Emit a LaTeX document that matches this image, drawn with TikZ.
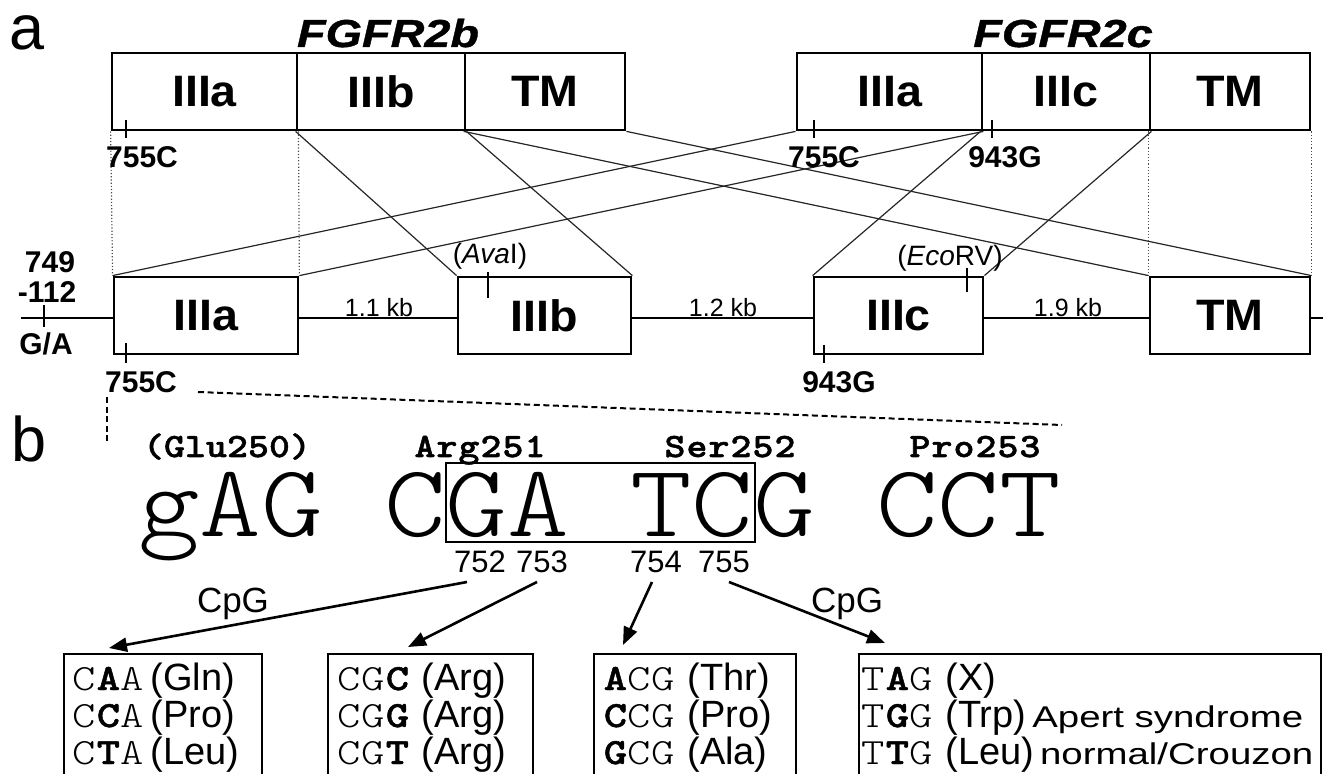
\documentclass[tikz,border=0pt]{standalone}
\usepackage{fontspec}
\setmainfont{Liberation Sans}
\newfontfamily\nsans{Liberation Sans}[FakeStretch=1.06]
\newfontfamily\wsans{Liberation Sans}[FakeStretch=1.2, FakeBold=1]
\newfontfamily\asans{Liberation Sans}[FakeStretch=1.28]
\newfontfamily\mbig{lmmonolt10-regular.otf}[FakeStretch=1.14]
\newfontfamily\mcod{lmmonolt10-regular.otf}[FakeStretch=1.2]
\newfontfamily\mcodb{lmmonolt10-bold.otf}[FakeStretch=1.2, FakeBold=1.2]
\newfontfamily\mlab{lmmonolt10-bold.otf}[FakeStretch=1.17, FakeBold=1.5]
\usetikzlibrary{arrows.meta}
\ExplSyntaxOn
\NewDocumentCommand\spreadstr{mm}{\str_map_inline:nn{#2}{\makebox[#1][c]{##1}}}
\ExplSyntaxOff
\newcommand\cdn[3]{{\fontsize{18.5}{20}\selectfont\makebox[12pt]{#1}\makebox[12pt]{#2}\makebox[12pt]{#3}}}
\newcommand\nb[1]{\mcod #1}
\newcommand\bb[1]{\mcodb #1}
\begin{document}
\begin{tikzpicture}[x=0.5pt,y=-0.5pt,
  gbox/.style={draw, line width=1.4pt, fill=white, inner sep=0, minimum height=38.5pt,
    font=\nsans\bfseries\fontsize{22}{24}\selectfont},
  lbl/.style={anchor=base, inner sep=0, font=\bfseries\fontsize{15}{17}\selectfont},
  lbltwo/.style={anchor=base, inner sep=0, font=\bfseries\fontsize{15}{17}\selectfont},
  kb/.style={anchor=base, inner sep=0, font=\fontsize{12.5}{14}\selectfont},
  enz/.style={anchor=base, inner sep=0, font=\fontsize{14}{16}\selectfont},
  cross/.style={line width=0.6pt, black!85},
  vdot/.style={line width=0.6pt, black!70, densely dotted},
  tick/.style={line width=1.4pt},
  dsh/.style={line width=1pt, dash pattern=on 3pt off 1.8pt},
  ml/.style={anchor=base, inner sep=0, font=\mlab\fontsize{17}{19}\selectfont},
  dg/.style={anchor=base, inner sep=0, font=\fontsize{15.5}{17}\selectfont},
  cpg/.style={anchor=base, inner sep=0, font=\fontsize{17.5}{19}\selectfont},
  arr/.style={line width=1.3pt, -{Triangle[length=9pt,width=7pt]}},
  obox/.style={draw, line width=1.2pt, anchor=north west, minimum height=66pt, inner sep=0},
  row/.style={anchor=base west, inner sep=0, font=\fontsize{19}{21}\selectfont},
  big/.style={anchor=base, inner sep=0, font=\fontsize{31.5}{33}\selectfont},
  ttl/.style={anchor=base, inner sep=0, font=\wsans\bfseries\itshape\fontsize{19.5}{21}\selectfont}
]
\fill[white] (0,0) rectangle (1323,774);
\useasboundingbox (0,0) rectangle (1323,774);

% panel letters
\node[big] (la) at (27,50) {a};
\node[big] (lb) at (29,462) {b};

% titles
\node[ttl] (t2b) at (388,47) {FGFR2b};
\node[ttl] (t2c) at (1063,47) {FGFR2c};

% top row
\node[gbox, minimum width=92.5pt] (b3a) at (204.5,91.5) {IIIa};
\node[gbox, minimum width=84pt] (b3b) at (381,91.5) {IIIb};
\node[gbox, minimum width=80pt] (bTM) at (545,91.5) {TM};
\node[gbox, minimum width=92.5pt] (c3a) at (889.5,91.5) {IIIa};
\node[gbox, minimum width=84pt] (c3c) at (1066,91.5) {IIIc};
\node[gbox, minimum width=80pt] (cTM) at (1230,91.5) {TM};

% genomic line
\coordinate (L0) at (21,318);
\coordinate (L1) at (1323,318);
\draw[line width=1.2pt] (L0) -- (L1);

% middle row
\node[gbox, minimum width=92pt] (m3a) at (206,315.5) {IIIa};
\node[gbox, minimum width=86.5pt] (m3b) at (544.5,315.5) {IIIb};
\node[gbox, minimum width=84.5pt] (m3c) at (898.5,315.5) {IIIc};
\node[gbox, minimum width=80pt] (mTM) at (1230,315.5) {TM};

% connections
\draw[vdot] (b3a.south west) -- (m3a.north west);
\draw[vdot] (b3a.south east) -- (m3a.north east);
\draw[cross] (b3b.south west) -- (m3b.north west);
\draw[cross] (b3b.south east) -- (m3b.north east);
\draw[cross] (bTM.south west) -- (mTM.north west);
\draw[cross] (bTM.south east) -- (mTM.north east);
\draw[cross] (c3a.south west) -- (m3a.north west);
\draw[cross] (c3a.south east) -- (m3a.north east);
\draw[cross] (c3c.south west) -- (m3c.north west);
\draw[cross] (c3c.south east) -- (m3c.north east);
\draw[vdot] (cTM.south west) -- (mTM.north west);
\draw[vdot] (cTM.south east) -- (mTM.north east);

% ticks
\draw[tick] (126,120) -- (126,138);
\draw[tick] (814,120) -- (814,138);
\draw[tick] (992,120) -- (992,138);
\draw[tick] (44,305) -- (44,327);
\draw[tick] (126,343) -- (126,363);
\draw[tick] (488,272) -- (488,298);
\draw[tick] (967,268) -- (967,292);
\draw[tick] (824,345) -- (824,363);

% labels
\node[lbl] (p1) at (142,168) {755C};
\node[lbl] (p2) at (824,168) {755C};
\node[lbl] (p3) at (1005,168) {943G};
\node[lbl] (p4) at (141,393) {755C};
\node[lbl] (p5) at (839,393) {943G};
\node[lbltwo] (q1) at (50,273) {749};
\node[lbltwo] (q2) at (47,303) {-112};
\node[lbltwo] (q3) at (46,355) {G/A};
\node[kb] (k1) at (379,317) {1.1 kb};
\node[kb] (k2) at (723,317) {1.2 kb};
\node[kb] (k3) at (1068,317) {1.9 kb};
\node[enz] (ava) at (490,264) {(\textit{Ava}I)};
\node[enz] (eco) at (950,266) {(\textit{Eco}RV)};

% dashed zoom lines
\coordinate (d0) at (198,392);
\coordinate (d1) at (1062,425);
\draw[dsh] (d0) -- (d1);
\coordinate (d2) at (107,397);
\coordinate (d3) at (107,443);
\draw[dsh] (d2) -- (d3);

% sequence
\node[ml] (g250) at (227,457) {\spreadstr{10.5pt}{(Glu250)}};
\node[ml] (a251) at (480,457) {\spreadstr{11pt}{Arg251}};
\node[ml] (s252) at (730,457) {\spreadstr{11pt}{Ser252}};
\node[ml] (p253) at (975,457) {\spreadstr{11pt}{Pro253}};
\node[anchor=base west, inner sep=0] (seq) at (138,537) {\mbig\fontsize{51.5}{55}\selectfont\spreadstr{30.75pt}{gAG CGA TCG CCT}};
\node[draw, line width=1pt, minimum width=154.5pt, minimum height=39.5pt, inner sep=0] (sbox) at (600,502.5) {};

% positions
\node[dg] (n752) at (480,573) {752};
\node[dg] (n753) at (542,573) {753};
\node[dg] (n754) at (656,573) {754};
\node[dg] (n755) at (724,573) {755};

% arrows
\coordinate (s1) at (467,582); \coordinate (e1) at (109,648);
\coordinate (s2) at (537,582); \coordinate (e2) at (408,647);
\coordinate (s3) at (652,582); \coordinate (e3) at (623,645);
\coordinate (s4) at (729,582); \coordinate (e4) at (885,643);
\draw[arr] (s1) -- (e1);
\draw[arr] (s2) -- (e2);
\draw[arr] (s3) -- (e3);
\draw[arr] (s4) -- (e4);
\node[cpg] (cpg1) at (233,613) {CpG};
\node[cpg] (cpg2) at (847,613) {CpG};

% outcome boxes
\node[obox, minimum width=99pt] (o1) at (63,653) {};
\node[obox, minimum width=102.5pt] (o2) at (327,653) {};
\node[obox, minimum width=101pt] (o3) at (593,653) {};
\node[obox, minimum width=231pt] (o4) at (858,653) {};

\node[row] (r11) at (72,690) {\cdn{\nb C}{\bb A}{\nb A}\hspace{3pt}(Gln)};
\node[row] (r12) at (72,727) {\cdn{\nb C}{\bb C}{\nb A}\hspace{3pt}(Pro)};
\node[row] (r13) at (72,764) {\cdn{\nb C}{\bb T}{\nb A}\hspace{3pt}(Leu)};
\node[row] (r21) at (337,690) {\cdn{\nb C}{\nb G}{\bb C}\hspace{6pt}(Arg)};
\node[row] (r22) at (337,727) {\cdn{\nb C}{\nb G}{\bb G}\hspace{6pt}(Arg)};
\node[row] (r23) at (337,764) {\cdn{\nb C}{\nb G}{\bb T}\hspace{6pt}(Arg)};
\node[row] (r31) at (603,690) {\cdn{\bb A}{\nb C}{\nb G}\hspace{6pt}(Thr)};
\node[row] (r32) at (603,727) {\cdn{\bb C}{\nb C}{\nb G}\hspace{6pt}(Pro)};
\node[row] (r33) at (603,764) {\cdn{\bb G}{\nb C}{\nb G}\hspace{6pt}(Ala)};
\node[row] (r41) at (861,690) {\cdn{\nb T}{\bb A}{\nb G}\hspace{6pt}(X)};
\node[row] (r42) at (861,727) {\cdn{\nb T}{\bb G}{\nb G}\hspace{6pt}(Trp)\hspace{3pt}{\asans\fontsize{15}{17}\selectfont Apert syndrome}};
\node[row] (r43) at (861,764) {\cdn{\nb T}{\bb T}{\nb G}\hspace{6pt}(Leu)\hspace{3pt}{\asans\fontsize{15}{17}\selectfont normal/Crouzon}};
\end{tikzpicture}
\end{document}
